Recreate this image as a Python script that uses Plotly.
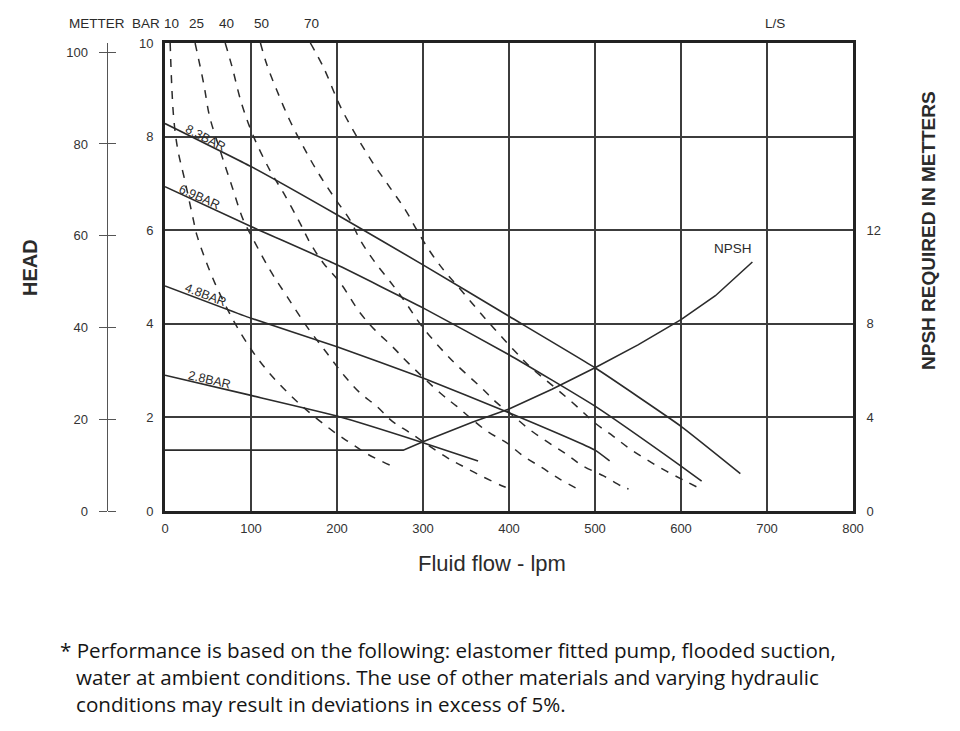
import plotly.graph_objects as go # for the pump curve chart

# data (flow in lpm, head in bar, NPSH in metters)
bar_labels = ["8.3BAR", "6.9BAR", "4.8BAR", "2.8BAR"]
flow_83 = [0, 100, 200, 300, 400, 500, 600, 669]
head_83 = [8.28, 7.36, 6.33, 5.26, 4.16, 3.06, 1.81, 0.80]
flow_69 = [0, 100, 200, 300, 400, 500, 600, 624]
head_69 = [6.93, 6.08, 5.26, 4.34, 3.34, 2.24, 0.96, 0.64]
flow_48 = [0, 100, 200, 300, 400, 500, 517]
head_48 = [4.81, 4.12, 3.51, 2.84, 2.10, 1.30, 1.07]
flow_28 = [0, 100, 200, 300, 364]
head_28 = [2.90, 2.47, 2.03, 1.46, 1.07]

# dashed air consumption curves
air_labels = ["10", "25", "40", "50", "70"]
flow_a10 = [6, 10, 15, 23, 33, 37, 58, 89, 118, 157, 198, 215, 236, 264]
head_a10 = [10.0, 8.42, 7.71, 7.07, 6.22, 5.90, 4.87, 3.77, 3.02, 2.28, 1.67, 1.46, 1.21, 0.96]
flow_a25 = [35, 45, 52, 64, 78, 91, 101, 122, 142, 165, 188, 209, 227, 246, 264, 285, 328, 349, 372, 393, 402]
head_a25 = [10.0, 9.13, 8.42, 7.71, 6.93, 6.22, 5.86, 5.15, 4.58, 3.94, 3.38, 2.88, 2.52, 2.24, 1.92, 1.67, 1.14, 0.93, 0.71, 0.53, 0.47]
flow_a40 = [70, 78, 89, 103, 122, 138, 157, 169, 184, 204, 227, 244, 264, 283, 320, 339, 374, 397, 417, 438, 459, 481]
head_a40 = [10.0, 9.49, 8.71, 8.0, 7.28, 6.79, 6.15, 5.72, 5.30, 4.87, 4.23, 3.87, 3.52, 3.16, 2.52, 2.24, 1.71, 1.46, 1.17, 0.93, 0.68, 0.46]
flow_a50 = [111, 118, 130, 145, 161, 176, 196, 215, 227, 242, 266, 281, 299, 331, 368, 386, 405, 424, 446, 467, 486, 510, 531, 539]
head_a50 = [10.0, 9.56, 8.99, 8.35, 7.78, 7.29, 6.72, 6.22, 5.79, 5.37, 4.80, 4.42, 3.94, 3.27, 2.63, 2.31, 2.03, 1.74, 1.46, 1.21, 0.96, 0.75, 0.53, 0.47]
flow_a70 = [169, 184, 204, 223, 242, 262, 280, 293, 308, 324, 340, 372, 405, 424, 442, 461, 481, 500, 521, 539, 560, 583, 605, 624]
head_a70 = [10.0, 9.49, 8.64, 8.0, 7.43, 6.90, 6.42, 6.0, 5.55, 5.15, 4.81, 4.12, 3.45, 3.09, 2.81, 2.52, 2.20, 1.88, 1.60, 1.35, 1.10, 0.85, 0.64, 0.46]

# NPSH required (right axis, metters)
flow_npsh = [0, 277, 300, 358, 400, 450, 500, 550, 600, 640, 683]
npsh_m = [2.6, 2.6, 2.96, 3.8, 4.36, 5.2, 6.12, 7.1, 8.18, 9.2, 10.64]

x_ticks = [0, 100, 200, 300, 400, 500, 600, 700, 800]
bar_ticks = [0, 2, 4, 6, 8, 10]
metter_ticks = [0, 20, 40, 60, 80, 100]
npsh_ticks = [0, 4, 8, 12]

note = ("* Performance is based on the following: elastomer fitted pump, flooded suction,<br>"
        "   water at ambient conditions. The use of other materials and varying hydraulic<br>"
        "   conditions may result in deviations in excess of 5%.")

W, H = 960, 731
ML, MR, MT, MB = 60, 107, 43, 220
pw, ph = W-ML-MR, H-MT-MB
def pxx(px): return (px-ML)/pw   # pixel -> paper
def pxy(py): return (H-MB-py)/ph

ink = "#2b2b2b"
fnt = "Liberation Sans, Arial, sans-serif"
clear = "rgba(0,0,0,0)"

fig = go.Figure()
solid = [(flow_83, head_83), (flow_69, head_69), (flow_48, head_48), (flow_28, head_28)]
for (fx, hy), nm in zip(solid, bar_labels):
    fig.add_trace(go.Scatter(x=fx, y=hy, mode="lines", name=nm, line_shape="spline",
                             line=dict(color=ink, width=1.6, smoothing=0.4)))
dashed = [(flow_a10, head_a10), (flow_a25, head_a25), (flow_a40, head_a40),
          (flow_a50, head_a50), (flow_a70, head_a70)]
for (fx, hy), nm in zip(dashed, air_labels):
    fig.add_trace(go.Scatter(x=fx, y=hy, mode="lines", name=nm, line_shape="spline",
                             line=dict(color=ink, width=1.5, dash="8px,8px")))
fig.add_trace(go.Scatter(x=flow_npsh, y=npsh_m, mode="lines", name="NPSH", yaxis="y2",
                         line=dict(color=ink, width=1.6)))
# hidden helpers so the metter scale axes get drawn
for ax in ["y3", "y4"]:
    fig.add_trace(go.Scatter(x=[x_ticks[0]]*len(metter_ticks), y=metter_ticks, yaxis=ax,
                             mode="markers", marker=dict(opacity=0), hoverinfo="skip"))

ann = []
def txt(x, y, t, size=13, **kw):
    d = dict(x=x, y=y, text=t, showarrow=False, xanchor="center", yanchor="middle",
             font=dict(size=size, color=ink, family=fnt))
    d.update(kw)
    ann.append(d)

# top header texts
txt(pxx(97), pxy(24), "METTER", 13.5, xref="paper", yref="paper")
txt(pxx(146), pxy(24), "BAR", 13.5, xref="paper", yref="paper")
for (fx, hy), nm in zip(dashed, air_labels):
    txt(fx[0], pxy(24), nm, 13.5, xref="x", yref="paper", xshift=1)
txt(pxx(775), pxy(24), "L/S", 13.5, xref="paper", yref="paper")

# labels on the pressure lines
lab_pos = [(47, 27), (40, 24), (47, 21), (52, 13)]
for (fx, hy), nm, (lx, ang) in zip(solid, bar_labels, lab_pos):
    ly = hy[0] + (hy[1]-hy[0])*lx/100
    txt(lx, ly, nm, 12.5, xref="x", yref="y", textangle=ang, yshift=6)
txt(pxx(733), pxy(248), "NPSH", 13.5, xref="paper", yref="paper")

txt(pxx(30), pxy(268), "<b>HEAD</b>", 20, xref="paper", yref="paper", textangle=-90)
txt(pxx(928), pxy(231), "<b>NPSH REQUIRED IN METTERS</b>", 19, xref="paper", yref="paper", textangle=-90)
txt(pxx(492), pxy(563), "Fluid flow - lpm", 22, xref="paper", yref="paper")
txt(pxx(58), pxy(634), note, 20.6, xref="paper", yref="paper", xanchor="left", yanchor="top",
    align="left", font=dict(size=20.6, color="#151515", family="Open Sans, Lato, sans-serif"))

fig.update_layout(
    width=W, height=H, margin=dict(l=ML, r=MR, t=MT, b=MB),
    paper_bgcolor="white", plot_bgcolor="white", showlegend=False,
    font=dict(family=fnt, color="#333", size=13),
    xaxis=dict(domain=[pxx(165), 1], range=[0, 800], tickvals=x_ticks,
               showgrid=True, gridcolor="#3c3c3c", gridwidth=1.6, zeroline=False,
               showline=True, mirror=True, linecolor="#222", linewidth=3,
               ticks="outside", ticklen=3, tickcolor=clear, tickfont=dict(size=13)),
    yaxis=dict(range=[0, 10], tickvals=bar_ticks, showgrid=True, gridcolor="#3c3c3c",
               gridwidth=1.6, zeroline=False, showline=True, mirror=True,
               linecolor="#222", linewidth=3, ticks="outside", ticklen=6,
               tickcolor=clear, tickfont=dict(size=13)),
    yaxis2=dict(range=[0, 20], tickvals=npsh_ticks, overlaying="y", side="right",
                anchor="x", showgrid=False, zeroline=False, ticks="outside",
                ticklen=10, tickcolor=clear, tickfont=dict(size=13)),
    # metter scale: ticks out to the left, a twin axis puts ticks out to the right
    yaxis3=dict(range=[0, 102], tickvals=metter_ticks, overlaying="y", anchor="free",
                position=pxx(106.7), side="left", showgrid=False, zeroline=False,
                showline=True, linecolor="#555", linewidth=1.3, ticks="outside",
                ticklen=8, tickwidth=1.3, tickcolor="#555", tickfont=dict(size=13),
                ticklabelstandoff=8),
    yaxis4=dict(range=[0, 102], tickvals=metter_ticks, overlaying="y", anchor="free",
                position=pxx(106.7), side="right", showgrid=False, zeroline=False,
                showline=False, ticks="outside", ticklen=8, tickwidth=1.3,
                tickcolor="#555", showticklabels=False),
    annotations=ann,
)

# no body margin, so the figure sits at the window corner
fig.write_html("out.html", config={"displayModeBar": False},
               post_script="document.body.style.margin='0px';")
